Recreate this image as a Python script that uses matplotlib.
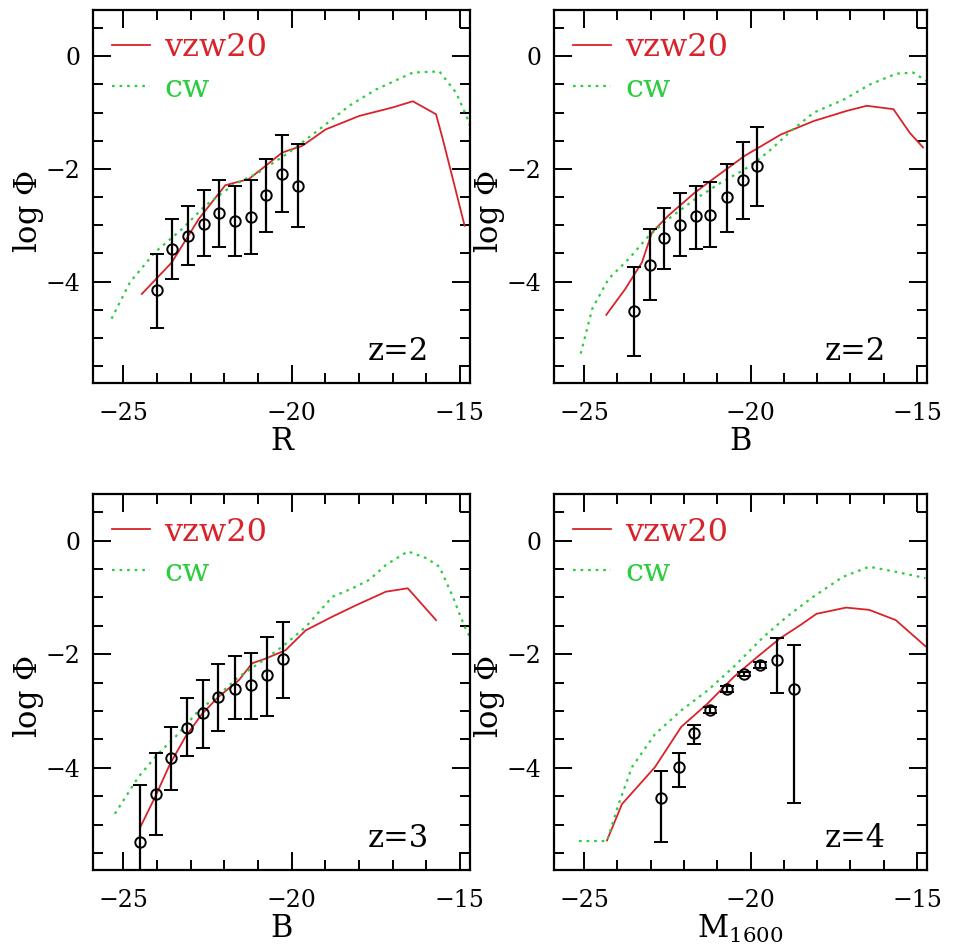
import numpy as np
import matplotlib
matplotlib.use("Agg")
import matplotlib.pyplot as plt
from matplotlib.ticker import MultipleLocator

plt.rcParams['font.family'] = ['DejaVu Serif']
plt.rcParams['mathtext.fontset'] = 'dejavuserif'

RED = '#d8232a'
GREEN = '#2ecc40'

# --- panel 1: R band, z=2 ---
p1_x = [-23.99, -23.56, -23.08, -22.59, -22.17, -21.69, -21.22, -20.75, -20.28, -19.81]
p1_y = [-4.15, -3.43, -3.19, -2.97, -2.78, -2.92, -2.85, -2.47, -2.09, -2.30]
p1_hi = [-3.51, -2.89, -2.65, -2.37, -2.20, -2.31, -2.20, -1.82, -1.39, -1.55]
p1_lo = [-4.82, -3.95, -3.70, -3.55, -3.39, -3.55, -3.51, -3.12, -2.76, -3.04]
p1_vzw_x = [-24.45, -23.56, -22.76, -21.97, -21.27, -20.78, -20.28, -19.68, -18.99,
            -17.99, -17.00, -16.40, -15.71, -15.51, -14.86]
p1_vzw_y = [-4.22, -3.66, -2.89, -2.29, -2.18, -1.95, -1.71, -1.59, -1.30,
            -1.06, -0.91, -0.80, -1.03, -1.47, -3.01]
p1_cw_x = [-25.35, -24.80, -24.06, -23.26, -22.56, -21.77, -20.97, -20.08, -19.18,
           -18.29, -17.49, -16.40, -15.61, -15.11, -14.81, -14.60]
p1_cw_y = [-4.66, -4.01, -3.48, -3.07, -2.65, -2.30, -2.06, -1.71, -1.30,
           -0.88, -0.59, -0.29, -0.27, -0.65, -1.06, -1.40]

# --- panel 2: B band, z=2 ---
p2_x = [-23.49, -23.01, -22.59, -22.11, -21.64, -21.21, -20.71, -20.23, -19.81]
p2_y = [-4.53, -3.70, -3.23, -2.99, -2.84, -2.82, -2.50, -2.20, -1.95]
p2_hi = [-3.75, -3.07, -2.70, -2.42, -2.31, -2.23, -1.91, -1.53, -1.26]
p2_lo = [-5.32, -4.32, -3.78, -3.54, -3.42, -3.39, -3.12, -2.89, -2.65]
p2_vzw_x = [-24.33, -23.76, -23.26, -22.96, -22.47, -21.67, -21.08, -20.18, -19.09,
            -18.10, -17.11, -16.51, -15.71, -15.22, -14.82]
p2_vzw_y = [-4.59, -4.13, -3.66, -3.13, -2.83, -2.42, -2.16, -1.77, -1.39,
            -1.15, -0.97, -0.88, -0.94, -1.36, -1.62]
p2_cw_x = [-25.10, -24.75, -24.26, -23.66, -23.06, -22.47, -21.67, -20.88, -20.18,
           -19.49, -18.79, -18.10, -17.20, -16.41, -15.62, -15.12, -14.72]
p2_cw_y = [-5.28, -4.48, -3.95, -3.60, -3.19, -2.89, -2.54, -2.24, -2.01,
           -1.71, -1.33, -1.00, -0.77, -0.50, -0.31, -0.29, -0.44]

# --- panel 3: B band, z=3 ---
p3_x = [-24.50, -24.04, -23.59, -23.11, -22.64, -22.19, -21.69, -21.20, -20.73, -20.26]
p3_y = [-5.30, -4.46, -3.82, -3.30, -3.04, -2.76, -2.61, -2.55, -2.37, -2.09]
p3_hi = [-4.30, -3.74, -3.28, -2.77, -2.46, -2.18, -2.04, -1.98, -1.69, -1.43]
p3_lo = [-6.00, -5.19, -4.39, -3.80, -3.65, -3.35, -3.14, -3.14, -3.08, -2.77]
p3_vzw_x = [-24.50, -24.06, -23.61, -23.16, -22.66, -22.17, -21.57, -21.17, -20.78,
            -20.18, -19.58, -18.79, -18.09, -17.20, -16.55, -15.71]
p3_vzw_y = [-5.05, -4.52, -3.93, -3.46, -3.05, -2.75, -2.46, -2.16, -2.08,
            -1.93, -1.58, -1.34, -1.14, -0.90, -0.84, -1.40]
p3_cw_x = [-25.25, -24.55, -23.96, -23.36, -22.76, -22.17, -21.57, -20.97, -20.28,
           -19.58, -18.79, -18.19, -17.69, -17.20, -16.55, -16.00, -15.61, -15.21,
           -14.86, -14.71]
p3_cw_y = [-4.81, -4.16, -3.75, -3.40, -2.99, -2.72, -2.40, -2.16, -1.87,
           -1.52, -0.99, -0.84, -0.69, -0.43, -0.19, -0.31, -0.46, -0.99,
           -1.52, -1.69]

# --- panel 4: M1600, z=4 ---
p4_x = [-22.69, -22.16, -21.70, -21.23, -20.72, -20.20, -19.72, -19.21, -18.71]
p4_y = [-4.54, -3.99, -3.38, -2.98, -2.61, -2.35, -2.19, -2.11, -2.61]
p4_hi = [-4.05, -3.74, -3.24, -2.93, -2.56, -2.31, -2.13, -1.72, -1.84]
p4_lo = [-5.30, -4.34, -3.58, -3.03, -2.66, -2.39, -2.25, -2.68, -4.62]
p4_vzw_x = [-24.31, -23.86, -22.87, -22.08, -21.29, -20.50, -19.80, -19.11, -18.51,
            -18.02, -17.13, -16.44, -15.64, -14.75]
p4_vzw_y = [-5.28, -4.64, -3.99, -3.28, -2.87, -2.40, -2.05, -1.72, -1.49,
            -1.29, -1.18, -1.22, -1.40, -1.86]
p4_cw_x = [-25.15, -24.31, -23.96, -23.56, -22.87, -22.08, -21.29, -20.50, -19.60,
           -18.91, -18.12, -17.23, -16.44, -15.64, -14.75]
p4_cw_y = [-5.29, -5.29, -4.64, -3.99, -3.41, -2.99, -2.64, -2.22, -1.69,
           -1.34, -0.99, -0.64, -0.46, -0.55, -0.66]

panels = [
    (p1_x, p1_y, p1_hi, p1_lo, p1_vzw_x, p1_vzw_y, p1_cw_x, p1_cw_y, 'R', 'z=2'),
    (p2_x, p2_y, p2_hi, p2_lo, p2_vzw_x, p2_vzw_y, p2_cw_x, p2_cw_y, 'B', 'z=2'),
    (p3_x, p3_y, p3_hi, p3_lo, p3_vzw_x, p3_vzw_y, p3_cw_x, p3_cw_y, 'B', 'z=3'),
    (p4_x, p4_y, p4_hi, p4_lo, p4_vzw_x, p4_vzw_y, p4_cw_x, p4_cw_y,
     r'M$_{\mathregular{1600}}$', 'z=4'),
]

# axes boxes in figure fractions (left, bottom, width, height)
boxes = [
    (0.0968, 0.5943, 0.3923, 0.3951),
    (0.5765, 0.5943, 0.3882, 0.3951),
    (0.0968, 0.0784, 0.3923, 0.3983),
    (0.5765, 0.0784, 0.3882, 0.3983),
]

fig = plt.figure(figsize=(9.61, 9.44), dpi=100)

for box, (x, y, hi, lo, vx, vy, cx, cy, xlab, zlab) in zip(boxes, panels):
    ax = fig.add_axes(box)
    x = np.array(x); y = np.array(y)
    err = [y - np.array(lo), np.array(hi) - y]

    ax.plot(vx, vy, color=RED, lw=1.3, label='vzw20')
    ax.plot(cx, cy, color=GREEN, lw=1.6, ls=(0, (1.2, 2.2)), label='cw')
    ax.errorbar(x, y, yerr=err, fmt='o', ms=7.5, mfc='none', mec='black', mew=1.4,
                ecolor='black', elinewidth=1.6, capsize=5, capthick=1.6)

    ax.set_xlim(-25.9, -14.7)
    ax.set_ylim(-5.8, 0.82)
    ax.xaxis.set_major_locator(MultipleLocator(5))
    ax.xaxis.set_minor_locator(MultipleLocator(1))
    ax.yaxis.set_major_locator(MultipleLocator(2))
    ax.yaxis.set_minor_locator(MultipleLocator(0.5))
    ax.tick_params(which='both', direction='in', top=True, right=True, width=1.4,
                   labelsize=17)
    ax.tick_params(which='major', length=13)
    ax.tick_params(which='minor', length=7)
    ax.tick_params(axis='x', pad=14)
    ax.tick_params(axis='y', pad=9)
    for sp in ax.spines.values():
        sp.set_linewidth(1.6)

    ax.set_xlabel(xlab, fontsize=22)
    ax.xaxis.set_label_coords(0.5, -0.115)
    ax.set_ylabel(r'log $\Phi$', fontsize=22)
    ax.yaxis.set_label_coords(-0.125, 0.46)

    ax.text(0.89, 0.085, zlab, transform=ax.transAxes, ha='right', va='center',
            fontsize=22)

    leg = ax.legend(loc='upper left', bbox_to_anchor=(0.05, 0.94), frameon=False,
                    fontsize=23, handlelength=1.2, handletextpad=0.45,
                    labelspacing=0.3, borderpad=0, borderaxespad=0)
    for txt, c in zip(leg.get_texts(), [RED, GREEN]):
        txt.set_color(c)

fig.savefig('out.png', dpi=100)
